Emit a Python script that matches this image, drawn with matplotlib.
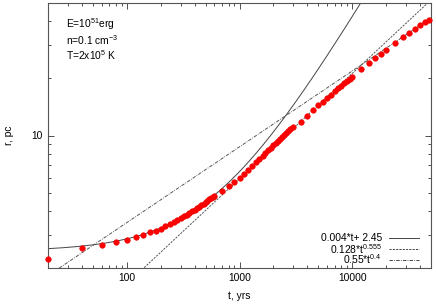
import numpy as np
import matplotlib
matplotlib.use("Agg")
import matplotlib.pyplot as plt
from matplotlib.ticker import LogLocator, NullFormatter

plt.rcParams['font.family'] = ['Liberation Sans', 'DejaVu Sans']
plt.rcParams['mathtext.fontset'] = 'custom'
plt.rcParams['mathtext.rm'] = 'Liberation Sans'
plt.rcParams['mathtext.it'] = 'Liberation Sans'
plt.rcParams['mathtext.default'] = 'regular'

# simulation data: time (yrs) and radius (pc)
t_yrs = [20, 40, 60, 80, 100, 120, 140, 160, 180, 200, 220, 240, 260, 280, 300,
         320, 340, 360, 380, 400, 420, 440, 460, 480, 500, 520, 540, 560, 580, 600,
         700, 800, 900, 1000, 1100, 1200, 1300, 1400, 1500, 1600, 1700, 1800, 1900,
         2000, 2100, 2200, 2300, 2400, 2500, 2600, 2700, 2800, 3000,
         3500, 4000, 4500, 5000, 5500, 6000, 6500, 7000, 7500, 8000, 8500, 9000,
         9500, 10000, 12000, 14000, 16000, 18000, 20000, 24000, 28000, 32000,
         36000, 40000, 44000, 48000]
r_pc = [2.24, 2.55, 2.65, 2.74, 2.81, 2.90, 2.99, 3.08, 3.14, 3.23, 3.33, 3.42, 3.51,
        3.59, 3.67, 3.74, 3.82, 3.90, 3.98, 4.06, 4.14, 4.21, 4.29, 4.37, 4.45, 4.53,
        4.61, 4.68, 4.75, 4.82,
        5.10, 5.40, 5.70, 5.99, 6.29, 6.58, 6.92, 7.22, 7.51, 7.80, 8.08, 8.35, 8.61,
        8.87, 9.12, 9.37, 9.61, 9.85, 10.08, 10.31, 10.54, 10.76, 11.05,
        11.76, 12.65, 13.56, 14.41, 15.10, 15.79, 16.42, 17.09, 17.73, 18.27, 18.84,
        19.36, 19.91, 20.44, 22.34, 24.13, 25.65, 27.06, 28.40, 30.68, 33.0, 34.65,
        36.37, 38.2, 39.6, 40.9]

# fit curves shown in legend
lin_slope, lin_icpt = 0.004, 2.45
pow1_coef, pow1_exp = 0.128, 0.555
pow2_coef, pow2_exp = 0.55, 0.4
fit_labels = ["0.004*t+ 2.45", "0.128*t$^{0.555}$", "0.55*t$^{0.4}$"]

W, H = 436, 305
fig = plt.figure(figsize=(W / 100, H / 100), dpi=100)
L, R, T, B = 48, 431, 3, 268
ax = fig.add_axes([L / W, 1 - B / H, (R - L) / W, (B - T) / H])
ax.set_xscale('log')
ax.set_yscale('log')
ax.set_xlim(20, 50000)
ax.set_ylim(2, 50)

tt = np.logspace(np.log10(20), np.log10(50000), 600)
lc = '#444444'
lc2 = '#555555'
ax.plot(tt, lin_slope * tt + lin_icpt, '-', color=lc, lw=0.7)
ax.plot(tt, pow1_coef * tt ** pow1_exp, color=lc2, lw=0.7, dashes=(2.2, 1.2))
ax.plot(tt, pow2_coef * tt ** pow2_exp, color=lc2, lw=0.7, dashes=(3.5, 1.3, 0.8, 1.3))

ax.plot(t_yrs, r_pc, 'o', ms=4.0, mfc='#ff0000', mec='#ee0000', mew=0.4,
        linestyle='none', clip_on=False, zorder=5)

fs = 7.4
# ticks
ax.tick_params(which='both', direction='in', top=True, right=True, labelsize=fs,
               width=0.6, color='#333333')
ax.tick_params(which='major', length=4.3)
ax.tick_params(which='minor', length=2.3)
ax.set_xticks([100, 1000, 10000])
ax.set_xticklabels(['100', '1000', '10000'])
ax.set_yticks([10])
ax.set_yticklabels(['10'])
ax.xaxis.set_minor_locator(LogLocator(base=10, subs=np.arange(2, 10), numticks=20))
ax.yaxis.set_minor_locator(LogLocator(base=10, subs=np.arange(2, 10), numticks=20))
ax.xaxis.set_minor_formatter(NullFormatter())
ax.yaxis.set_minor_formatter(NullFormatter())
for s in ax.spines.values():
    s.set_linewidth(0.8)
    s.set_color('#555555')

ax.set_xlabel('t, yrs', fontsize=fs, labelpad=6)
ax.set_ylabel('r, pc', fontsize=fs, labelpad=13)

def fx(x):
    return x / W

def fy(y):
    return 1 - y / H

fig.text(fx(66), fy(24), 'E=10$^{51}$erg', fontsize=fs, va='center', ha='left')
fig.text(fx(66), fy(40), 'n=0.1 cm$^{-3}$', fontsize=fs, va='center', ha='left')
fig.text(fx(66), fy(55.5), 'T=2x10$^{5}$ K', fontsize=fs, va='center', ha='left')

# legend drawn gnuplot-style
rows = [238, 249, 259.5]
styles = [dict(linestyle='-'), dict(dashes=(2.2, 1.2)), dict(dashes=(3.5, 1.3, 0.8, 1.3))]
for lab, yy, st in zip(fit_labels, rows, styles):
    fig.text(fx(382), fy(yy), lab, fontsize=fs, ha='right', va='center')
    fig.add_artist(plt.Line2D([fx(389), fx(419)], [fy(yy), fy(yy)], color=lc,
                              lw=0.7, transform=fig.transFigure, **st))

fig.savefig('out.png', dpi=100)
